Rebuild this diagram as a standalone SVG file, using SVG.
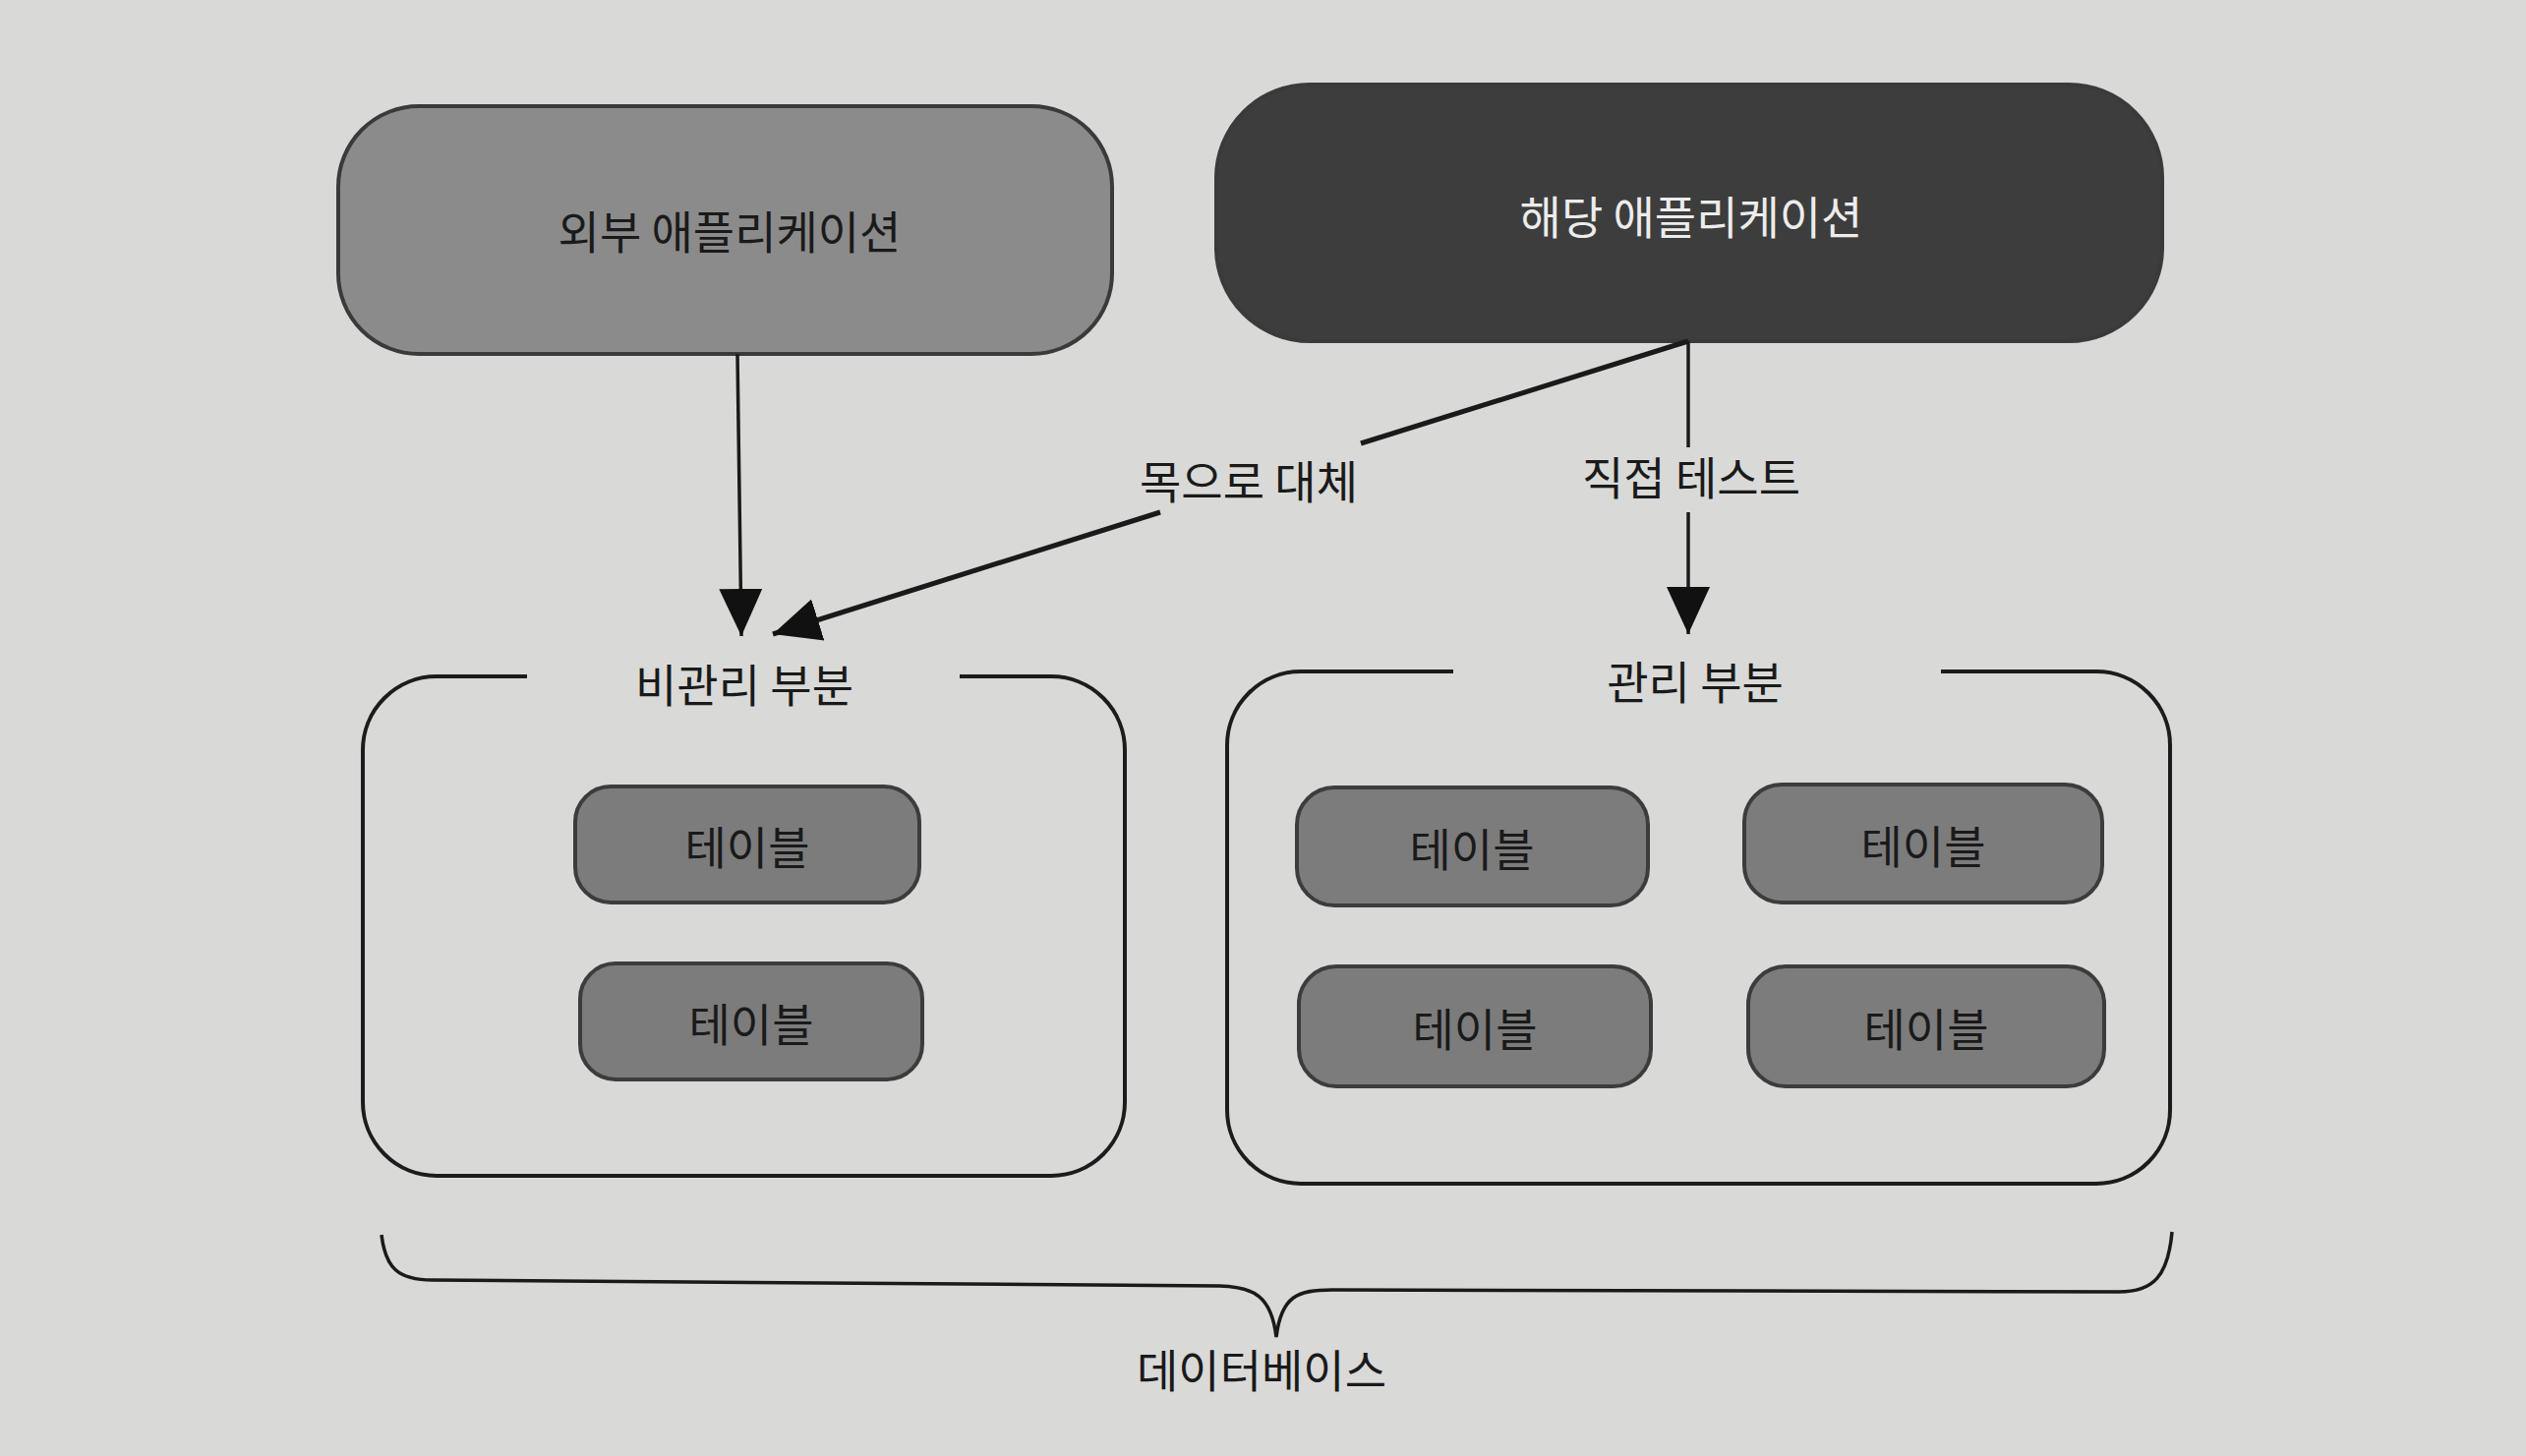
<svg xmlns="http://www.w3.org/2000/svg" width="2569" height="1481" viewBox="0 0 2569 1481">
<style>
text{font-family:"Noto Sans CJK KR","Noto Sans",sans-serif;font-size:46px;text-anchor:middle;dominant-baseline:central;fill:#1a1a1a}
.app{stroke:#3a3a3a;stroke-width:4}
.tbl{fill:#7c7c7c;stroke:#3c3c3c;stroke-width:4}
.part{fill:none;stroke:#1c1c1c;stroke-width:4}
.con{fill:none;stroke:#1a1a1a;stroke-width:3.5}
.light{fill:#ececec}
</style>
<defs>
<marker id="ah" markerUnits="userSpaceOnUse" markerWidth="50" markerHeight="50" viewBox="0 0 50 50" refX="48" refY="25" orient="auto">
<path d="M0,3 L48,25 L0,47 Z" fill="#111"/>
</marker>
</defs>
<rect width="2569" height="1481" fill="#d9d9d7"/>

<g id="external-app">
<rect class="app" x="344" y="108" width="787" height="252" rx="82" fill="#8b8b8b"/>
<text x="742" y="233">외부 애플리케이션</text>
</g>
<g id="this-app">
<rect class="app" x="1237" y="86" width="962" height="261" rx="95" fill="#3d3d3d"/>
<text class="light" x="1720" y="218">해당 애플리케이션</text>
</g>

<g id="unmanaged">
<path class="part" d="M536,688 H444 A75,75 0 0 0 369,763 V1121 A75,75 0 0 0 444,1196 H1069 A75,75 0 0 0 1144,1121 V763 A75,75 0 0 0 1069,688 H976"/>
<text x="757" y="694">비관리 부분</text>
<g id="u-table-1"><rect class="tbl" x="585" y="800" width="350" height="118" rx="36"/><text x="760" y="859">테이블</text></g>
<g id="u-table-2"><rect class="tbl" x="590" y="980" width="348" height="118" rx="36"/><text x="764" y="1039">테이블</text></g>
</g>

<g id="managed">
<path class="part" d="M1478,683 H1323 A75,75 0 0 0 1248,758 V1129 A75,75 0 0 0 1323,1204 H2132 A75,75 0 0 0 2207,1129 V758 A75,75 0 0 0 2132,683 H1974"/>
<text x="1724" y="691">관리 부분</text>
<g id="m-table-1"><rect class="tbl" x="1319" y="801" width="357" height="120" rx="38"/><text x="1497" y="861">테이블</text></g>
<g id="m-table-2"><rect class="tbl" x="1774" y="798" width="364" height="120" rx="38"/><text x="1956" y="858">테이블</text></g>
<g id="m-table-3"><rect class="tbl" x="1321" y="983" width="358" height="122" rx="38"/><text x="1500" y="1044">테이블</text></g>
<g id="m-table-4"><rect class="tbl" x="1778" y="983" width="362" height="122" rx="38"/><text x="1959" y="1044">테이블</text></g>
</g>

<g id="connectors">
<line class="con" x1="750" y1="360" x2="754" y2="647" marker-end="url(#ah)"/>
<line class="con" x1="1717" y1="347" x2="1384" y2="451" style="stroke-width:5"/>
<line class="con" x1="1180" y1="521" x2="786" y2="645" marker-end="url(#ah)" style="stroke-width:5"/>
<line class="con" x1="1717" y1="347" x2="1717" y2="455"/>
<line class="con" x1="1717" y1="521" x2="1717" y2="645" marker-end="url(#ah)"/>
<text x="1270" y="487">목으로 대체</text>
<text x="1720" y="483">직접 테스트</text>
</g>

<g id="database">
<path class="con" d="M388,1256 C392,1290 405,1302 440,1302 L1240,1308 C1275,1309 1293,1318 1298,1360 C1303,1318 1320,1312 1355,1312 L2155,1314 C2190,1314 2205,1298 2209,1253"/>
<text x="1283" y="1391">데이터베이스</text>
</g>
</svg>
